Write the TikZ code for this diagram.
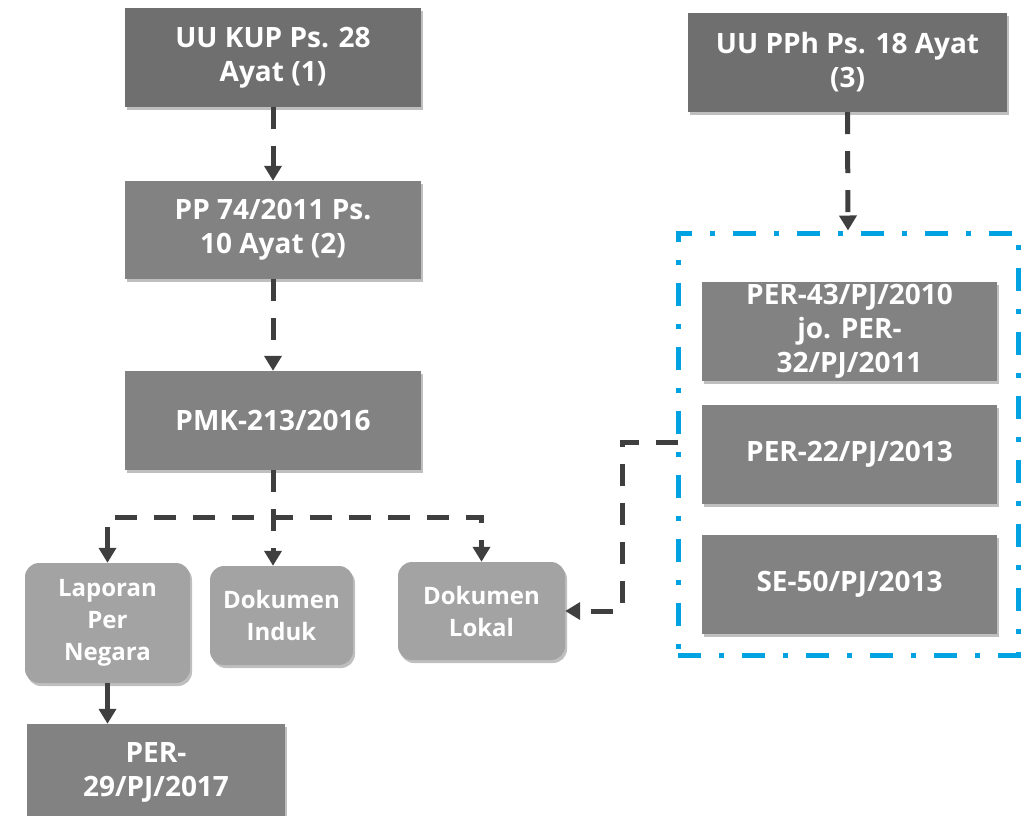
\documentclass[tikz,border=0pt]{standalone}
\usepackage{fontspec}
\setmainfont{Open Sans}
\usetikzlibrary{arrows.meta,shadows,positioning}
\definecolor{dkbox}{HTML}{6F6F6F}
\definecolor{mdbox}{HTML}{828282}
\definecolor{ltbox}{HTML}{A3A3A3}
\definecolor{lncol}{HTML}{3F3F3F}
\definecolor{frblue}{HTML}{00A2E2}
\tikzset{
  x=1pt, y=-1pt,
  shd/.style={drop shadow={shadow xshift=2pt, shadow yshift=-3pt, opacity=0.25, fill=black}},
  sqbox/.style={shd, rectangle, text=white, align=center, inner sep=2pt,
    font=\bfseries\fontsize{28}{34}\selectfont},
  darkbox/.style={sqbox, fill=dkbox},
  midbox/.style={sqbox, fill=mdbox},
  rndbox/.style={shd, rectangle, rounded corners=14pt, fill=ltbox, text=white, align=center,
    inner sep=2pt, font=\bfseries\fontsize{24}{32}\selectfont},
  dline/.style={draw=lncol, line width=5pt, dash pattern=on 22pt off 17pt},
  sline/.style={draw=lncol, line width=5pt},
  arr/.style={-{Triangle[width=17pt,length=15pt]}},
  bframe/.style={draw=frblue, line width=5pt, dash pattern=on 23pt off 18pt on 5pt off 18pt,
    minimum width=340pt, minimum height=422pt, inner sep=0pt},
}
\begin{document}
\begin{tikzpicture}
\useasboundingbox (0,0) rectangle (1028,815);
% left column
\node[darkbox, minimum width=296pt, minimum height=99pt] (kup) at (273,57.5) {UU KUP Ps. 28\\Ayat (1)};
\node[midbox, minimum width=296pt, minimum height=98pt] (pp) at (273,230) {PP 74/2011 Ps.\\10 Ayat (2)};
\node[midbox, minimum width=296pt, minimum height=99pt] (pmk) at (273,420.5) {PMK-213/2016};
\node[rndbox, minimum width=165pt, minimum height=120pt] (lap) at (107.5,623) {Laporan\\Per\\Negara};
\node[rndbox, minimum width=143pt, minimum height=99pt] (ind) at (281.5,615.5) {Dokumen\\Induk};
\node[rndbox, minimum width=167pt, minimum height=98pt] (lok) at (481.5,611) {Dokumen\\Lokal};
\node[midbox, minimum width=258pt, minimum height=96pt] (p29) at (156,772) {PER-\\29/PJ/2017};
% right column
\node[darkbox, minimum width=319pt, minimum height=99pt] (pph) at (847.5,62.5) {UU PPh Ps. 18 Ayat\\(3)};
\node[bframe] (frame) at (848,444) {};
\node[midbox, minimum width=295pt, minimum height=99pt] (p43) at (849.5,331.5) {PER-43/PJ/2010\\jo. PER-\\32/PJ/2011};
\node[midbox, minimum width=295pt, minimum height=99pt] (p22) at (849.5,454.5) {PER-22/PJ/2013};
\node[midbox, minimum width=295pt, minimum height=99pt] (se50) at (849.5,584.5) {SE-50/PJ/2013};
% connectors
\draw[dline, arr] (kup.south) -- (pp.north);
\draw[dline, arr] (pp.south) -- (pmk.north);
\coordinate (hy) at (273,517);
\draw[dline, arr] (pmk.south) -- (pmk.south |- ind.north);
\draw[dline, {Triangle[width=17pt,length=15pt]}-{Triangle[width=17pt,length=15pt]}]
  (lap.north) -- (lap.north |- hy) -- (lok.north |- hy) -- (lok.north);
\draw[sline, arr] (lap.south) -- (p29.north -| lap.south);
\draw[dline, arr] (pph.south) -- (frame.north);
\coordinate (fs) at (678,442);
\coordinate (fc) at (622,442);
\draw[dline, arr] (fs) -- (fc) -- (fc |- lok.east) -- (lok.east);
\end{tikzpicture}
\end{document}
